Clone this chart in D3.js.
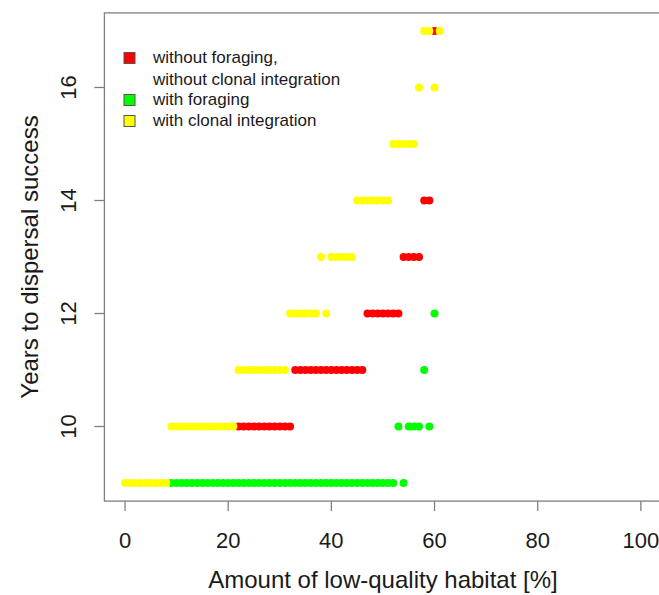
<!DOCTYPE html>
<html>
<head>
<meta charset="utf-8">
<script src="https://cdn.jsdelivr.net/npm/d3@7"></script>
<style>
  body { margin: 0; background: #fff; }
  svg { display: block; font-family: "Liberation Sans", Arial, sans-serif; }
</style>
</head>
<body>
<svg id="chart" width="659" height="595"></svg>
<script>
// values: habitat amount [%] -> years to dispersal success
const redX   = [22,23,24,25,26,27,28,29,30,31,32, 33,34,35,36,37,38,39,40,41,42,43,44,45,46, 47,48,49,50,51,52,53, 54,55,56,57, 58,59, 60];
const redY   = [10,10,10,10,10,10,10,10,10,10,10, 11,11,11,11,11,11,11,11,11,11,11,11,11,11, 12,12,12,12,12,12,12, 13,13,13,13, 14,14, 17];

const greenX = [9,10,11,12,13,14,15,16,17,18,19,20,21,22,23,24,25,26,27,28,29,30,31,32,33,34,35,36,37,38,39,40,41,42,43,44,45,46,47,48,49,50,51,52, 53,54,55,56,57,58,59,60];
const greenY = [9,9,9,9,9,9,9,9,9,9,9,9,9,9,9,9,9,9,9,9,9,9,9,9,9,9,9,9,9,9,9,9,9,9,9,9,9,9,9,9,9,9,9,9, 10,9,10,10,10,11,10,12];

const yellowX = [0,1,2,3,4,5,6,7,8, 9,10,11,12,13,14,15,16,17,18,19,20,21, 22,23,24,25,26,27,28,29,30,31, 32,33,34,35,36,37, 38,39, 40,41,42,43,44, 45,46,47,48,49,50,51, 52,53,54,55,56, 57,58,59,60,61];
const yellowY = [9,9,9,9,9,9,9,9,9, 10,10,10,10,10,10,10,10,10,10,10,10,10, 11,11,11,11,11,11,11,11,11,11, 12,12,12,12,12,12, 13,12, 13,13,13,13,13, 14,14,14,14,14,14,14, 15,15,15,15,15, 16,17,17,16,17];

const xTicks = [0, 20, 40, 60, 80, 100];
const yTicks = [10, 12, 14, 16];

const legendLabels = [
  ["without foraging,", "without clonal integration"],
  ["with foraging"],
  ["with clonal integration"]
];
const legendColors = ["#ff0000", "#00ff00", "#ffff00"];

const svg = d3.select("#chart");
const axisGrey = "#7f7f7f";
const textCol = "#1a1a1a";

// R style: 4% padding around the data range
const x = d3.scaleLinear().domain([-4, 104]).range([104.4, 661.5]);
const y = d3.scaleLinear().domain([8.68, 17.32]).range([501.1, 12.9]);

// plot box
svg.append("rect")
  .attr("x", x(-4)).attr("y", y(17.32))
  .attr("width", x(104) - x(-4)).attr("height", y(8.68) - y(17.32))
  .attr("fill", "none").attr("stroke", axisGrey).attr("stroke-width", 1.3);

// x axis
const xAxis = svg.append("g").attr("transform", "translate(0," + y(8.68) + ")");
xAxis.selectAll("line").data(xTicks).enter().append("line")
  .attr("x1", d => x(d)).attr("x2", d => x(d))
  .attr("y1", 0).attr("y2", 10)
  .attr("stroke", axisGrey).attr("stroke-width", 1.3);
xAxis.selectAll("text").data(xTicks).enter().append("text")
  .attr("x", d => x(d)).attr("y", 47)
  .attr("text-anchor", "middle")
  .attr("font-size", 22).attr("fill", textCol)
  .text(d => d);

// y axis
const yAxis = svg.append("g").attr("transform", "translate(" + x(-4) + ",0)");
yAxis.selectAll("line").data(yTicks).enter().append("line")
  .attr("x1", -10).attr("x2", 0)
  .attr("y1", d => y(d)).attr("y2", d => y(d))
  .attr("stroke", axisGrey).attr("stroke-width", 1.3);
yAxis.selectAll("text").data(yTicks).enter().append("text")
  .attr("transform", d => "translate(-28," + y(d) + ") rotate(-90)")
  .attr("text-anchor", "middle")
  .attr("font-size", 22).attr("fill", textCol)
  .text(d => d);

// axis titles
svg.append("text")
  .attr("x", x(50)).attr("y", 588)
  .attr("text-anchor", "middle")
  .attr("font-size", 24).attr("fill", textCol)
  .text("Amount of low-quality habitat [%]");

svg.append("text")
  .attr("transform", "translate(38," + y(13) + ") rotate(-90)")
  .attr("text-anchor", "middle")
  .attr("font-size", 24).attr("fill", textCol)
  .text("Years to dispersal success");

// points: red first, then green, yellow on top
const series = [
  { xs: redX, ys: redY, color: legendColors[0] },
  { xs: greenX, ys: greenY, color: legendColors[1] },
  { xs: yellowX, ys: yellowY, color: legendColors[2] }
];
series.forEach(function(s) {
  svg.append("g").selectAll("circle")
    .data(s.xs.map((v, i) => [v, s.ys[i]]))
    .enter().append("circle")
    .attr("cx", d => x(d[0]))
    .attr("cy", d => y(d[1]))
    .attr("r", 4)
    .attr("fill", s.color);
});

// legend
const legend = svg.append("g").attr("transform", "translate(124,0)");
const rowY = [58, 100, 121];
legendLabels.forEach(function(lines, i) {
  legend.append("rect")
    .attr("x", 0).attr("y", rowY[i] - 5.5)
    .attr("width", 11).attr("height", 11)
    .attr("fill", legendColors[i])
    .attr("stroke", "#555").attr("stroke-width", 1);
  lines.forEach(function(t, j) {
    legend.append("text")
      .attr("x", 29).attr("y", rowY[i] + j * 21.5 + 5)
      .attr("font-size", 17).attr("fill", textCol)
      .text(t);
  });
});
</script>
</body>
</html>
